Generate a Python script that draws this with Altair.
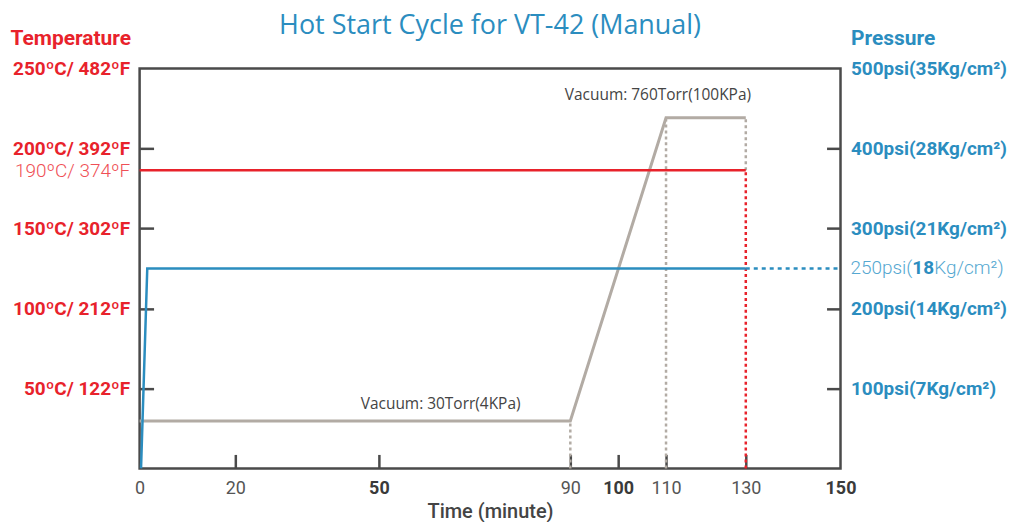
import altair as alt
import pandas as pd

TITLE = "Hot Start Cycle for VT-42 (Manual)"

# ---- time axis (minutes) ----
time_label_values = [0, 20, 50, 90, 100, 110, 130, 150]
time_bold_values = [50, 100, 150]
time_tick_values = [20, 50, 90, 100, 110, 130]
time_scale_domain = [0, 110, 130, 150]
time_scale_range = [0, 528, 608, 703]

# ---- temperature axis (left) ----
temp_label_values = [50, 100, 150, 186.5, 200, 250]
temp_label_texts = ["50ºC/ 122ºF", "100ºC/ 212ºF", "150ºC/ 302ºF",
                    "190ºC/ 374ºF", "200ºC/ 392ºF", "250ºC/ 482ºF"]
temp_tick_values = [50, 100, 150, 200]

# ---- pressure axis (right) ----
pres_label_values = [100, 200, 300, 400, 500]
pres_label_texts = ["100psi(7Kg/cm²)", "200psi(14Kg/cm²)",
                    "300psi(21Kg/cm²)", "400psi(28Kg/cm²)", "500psi(35Kg/cm²)"]
pres_tick_values = [100, 200, 300, 400]
# the set-point label, written in three pieces (the "18" is bold)
set_label_parts = ["250psi(", "18", "Kg/cm²)"]
set_label_value = 250

# ---- series ----
vac_time = [0, 90, 110, 130]
vac_level = [29.6, 29.6, 219.2, 219.2]

temp_time = [0, 130]
temp_value = [186.5, 186.5]

pres_time = [0.3, 1.6, 130]
pres_value = [0, 250, 250]
pres_hold_time = [130, 150]
pres_hold_value = [250, 250]

guide_time = [90, 110, 130, 130]
guide_from = [0, 0, 186.5, 0]
guide_to = [29.6, 219.2, 219.2, 186.5]
guide_kind = ["vac", "vac", "vac", "temp"]

annot_text = ["Vacuum: 30Torr(4KPa)", "Vacuum: 760Torr(100KPa)"]
annot_time = [62.9, 108.3]
annot_value = [40, 233.75]

RED = "#e8222b"
RED_LIGHT = "#ef4f56"
BLUE = "#2b8dbf"
BLUE_LIGHT = "#55a8d1"
GRAY = "#b2aba4"
DARK = "#4a4a4a"
LABEL_FONT = "Roboto"
LABEL_SIZE = 19


def label_expr(values, texts):
    expr = "''"
    for v, t in zip(values, texts):
        expr = f"(datum.value == {v} ? '{t}' : {expr})"
    return expr


def one_of(values):
    return " || ".join(f"datum.value == {v}" for v in values)


x_scale = alt.Scale(domain=time_scale_domain, range=time_scale_range, nice=False, zero=False)
t_scale = alt.Scale(domain=[0, 250], nice=False)
p_scale = alt.Scale(domain=[0, 500], nice=False)

vac_df = pd.DataFrame({"t": vac_time, "v": vac_level})
temp_df = pd.DataFrame({"t": temp_time, "v": temp_value})
pres_df = pd.DataFrame({"t": pres_time, "v": pres_value})
hold_df = pd.DataFrame({"t": pres_hold_time, "v": pres_hold_value})
guide_df = pd.DataFrame({"t": guide_time, "a": guide_from, "b": guide_to, "k": guide_kind})
annot_df = pd.DataFrame({"t": annot_time, "v": annot_value, "txt": annot_text})
set_df = pd.DataFrame({"t": [time_scale_domain[-1]], "v": [set_label_value]})

x_label_axis = alt.Axis(
    orient="bottom", values=time_label_values, ticks=False, domain=False, grid=False,
    labelExpr="datum.value", labelPadding=11, labelFontSize=18, labelFont=LABEL_FONT,
    labelFlush=False, labelOverlap=False,
    labelColor={"condition": {"test": one_of(time_bold_values), "value": "#3a3a3a"}, "value": "#555555"},
    labelFontWeight={"condition": {"test": one_of(time_bold_values), "value": "bold"}, "value": "normal"},
    title="Time (minute)", titleFont=LABEL_FONT, titleFontSize=20, titleFontWeight=500,
    titleColor="#444444", titleY=43, titleBaseline="middle",
)
x_tick_axis = alt.Axis(
    orient="bottom", values=time_tick_values, labels=False, domain=False, grid=False,
    ticks=True, tickSize=14, tickWidth=2.5, tickColor=DARK, offset=-14, title=None,
)

t_label_axis = alt.Axis(
    orient="left", values=temp_label_values, ticks=False, domain=False, grid=False,
    labelExpr=label_expr(temp_label_values, temp_label_texts), labelPadding=10,
    labelFontSize=LABEL_SIZE, labelFont=LABEL_FONT, labelOverlap=False, labelFlush=False,
    labelColor={"condition": {"test": "datum.value == 186.5", "value": RED_LIGHT}, "value": RED},
    labelFontWeight={"condition": {"test": "datum.value == 186.5", "value": 300}, "value": "bold"},
    title="Temperature", titleAngle=0, titleAlign="left", titleBaseline="middle",
    titleX=-130, titleY=-30, titleFont=LABEL_FONT, titleFontSize=21, titleFontWeight="bold",
    titleColor=RED,
)
t_tick_axis = alt.Axis(
    orient="left", values=temp_tick_values, labels=False, domain=False, grid=False,
    ticks=True, tickSize=14, tickWidth=2.5, tickColor=DARK, offset=-14, title=None,
)
p_label_axis = alt.Axis(
    orient="right", values=pres_label_values, ticks=False, domain=False, grid=False,
    labelExpr=label_expr(pres_label_values, pres_label_texts), labelPadding=10,
    labelFontSize=LABEL_SIZE, labelFont=LABEL_FONT, labelOverlap=False, labelFlush=False,
    labelColor=BLUE, labelFontWeight="bold",
    title="Pressure", titleAngle=0, titleAlign="left", titleBaseline="middle",
    titleX=10, titleY=-30, titleFont=LABEL_FONT, titleFontSize=21, titleFontWeight="bold",
    titleColor=BLUE,
)
p_tick_axis = alt.Axis(
    orient="right", values=pres_tick_values, labels=False, domain=False, grid=False,
    ticks=True, tickSize=14, tickWidth=2.5, tickColor=DARK, offset=-14, title=None,
)

vac_line = alt.Chart(vac_df).mark_line(color=GRAY, strokeWidth=3).encode(
    x=alt.X("t:Q", scale=x_scale, axis=x_label_axis),
    y=alt.Y("v:Q", scale=t_scale, axis=t_label_axis),
)
temp_line = alt.Chart(temp_df).mark_line(color=RED, strokeWidth=2.5).encode(
    x=alt.X("t:Q", scale=x_scale, axis=x_tick_axis),
    y=alt.Y("v:Q", scale=t_scale, axis=t_tick_axis),
)
pres_line = alt.Chart(pres_df).mark_line(color=BLUE, strokeWidth=2.5).encode(
    x=alt.X("t:Q", scale=x_scale, axis=None),
    y=alt.Y("v:Q", scale=p_scale, axis=p_label_axis),
)
hold_line = alt.Chart(hold_df).mark_line(color=BLUE, strokeWidth=2.5, strokeDash=[4, 4]).encode(
    x=alt.X("t:Q", scale=x_scale, axis=None),
    y=alt.Y("v:Q", scale=p_scale, axis=p_tick_axis),
)
guides = alt.Chart(guide_df).mark_rule(strokeWidth=2.5, strokeDash=[3, 3]).encode(
    x=alt.X("t:Q", scale=x_scale, axis=None),
    y=alt.Y("a:Q", scale=t_scale, axis=None),
    y2="b:Q",
    color=alt.Color("k:N", scale=alt.Scale(domain=["vac", "temp"], range=[GRAY, RED]), legend=None),
)
annots = alt.Chart(annot_df).mark_text(font="Open Sans", fontSize=15.5, color="#444444").encode(
    x=alt.X("t:Q", scale=x_scale, axis=None),
    y=alt.Y("v:Q", scale=t_scale, axis=None),
    text="txt:N",
)

set_enc = dict(
    x=alt.X("t:Q", scale=x_scale, axis=None),
    y=alt.Y("v:Q", scale=p_scale, axis=None),
)
set_a = alt.Chart(set_df).mark_text(
    text=set_label_parts[0], align="left", dx=10, font=LABEL_FONT, fontSize=LABEL_SIZE,
    fontWeight=300, color=BLUE_LIGHT).encode(**set_enc)
set_b = alt.Chart(set_df).mark_text(
    text=set_label_parts[1], align="left", dx=72, font=LABEL_FONT, fontSize=LABEL_SIZE,
    fontWeight="bold", color=BLUE).encode(**set_enc)
set_c = alt.Chart(set_df).mark_text(
    text=set_label_parts[2], align="left", dx=94, font=LABEL_FONT, fontSize=LABEL_SIZE,
    fontWeight=300, color=BLUE_LIGHT).encode(**set_enc)

chart = alt.layer(
    guides, vac_line, temp_line, hold_line, pres_line, annots, set_a, set_b, set_c
).resolve_scale(
    y="independent"
).resolve_axis(
    x="independent", y="independent"
).properties(
    width=703, height=401,
    background="white",
    title=alt.TitleParams(TITLE, font="Open Sans", fontSize=27, fontWeight=400, color=BLUE,
                          anchor="middle", frame="group", baseline="alphabetic", offset=-33),
    autosize=alt.AutoSizeParams(type="none"),
    padding={"left": 132, "top": 60, "right": 170, "bottom": 54},
).configure_view(
    stroke=DARK, strokeWidth=2.5
)

chart.save("out.html", embed_options={"renderer": "svg", "actions": False})
